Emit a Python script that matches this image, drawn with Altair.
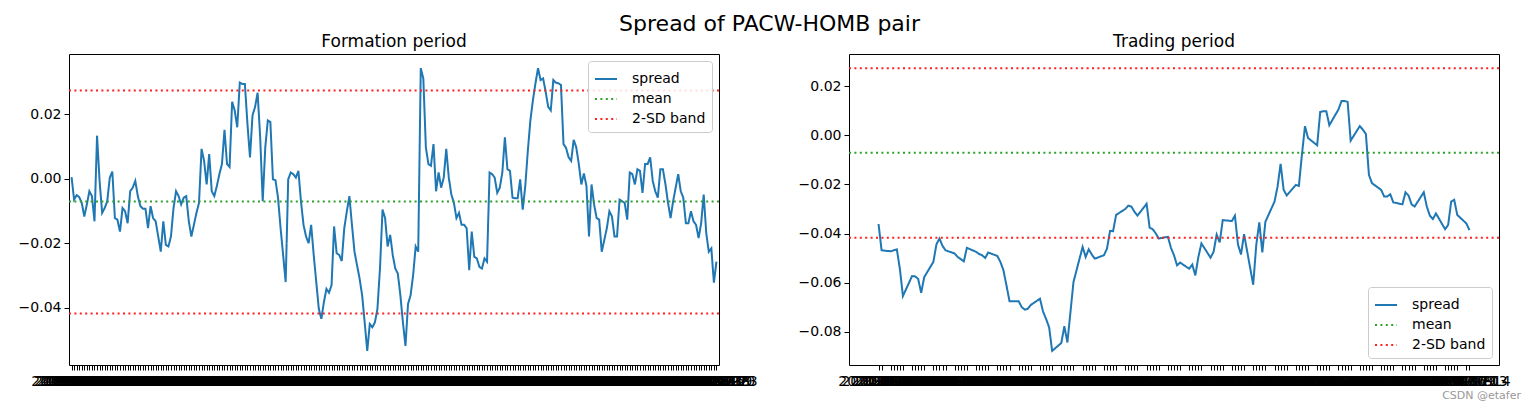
import altair as alt
import pandas as pd

# ---------------- data ----------------
formation_spread = [
    0.0005, -0.0065, -0.0051, -0.0057, -0.0075, -0.0117, -0.0080, -0.0039, -0.0054, -0.0132,
    0.0133, -0.0007, -0.0106, -0.0091, -0.0070, 0.0003, 0.0022, -0.0122, -0.0127, -0.0164,
    -0.0091, -0.0101, -0.0138, -0.0039, -0.0028, -0.0007, -0.0054, -0.0085, -0.0093, -0.0093,
    -0.0153, -0.0085, -0.0122, -0.0132, -0.0179, -0.0226, -0.0132, -0.0205, -0.0210, -0.0179,
    -0.0091, -0.0039, -0.0054, -0.0080, -0.0059, -0.0054, -0.0132, -0.0179, -0.0143, -0.0106,
    -0.0075, 0.0092, 0.0055, -0.0018, 0.0076, -0.0039, -0.0054, -0.0023, 0.0014, 0.0045,
    0.0151, 0.0045, 0.0036, 0.0238, 0.0211, 0.0159, 0.0297, 0.0293, 0.0293, 0.0170,
    0.0066, 0.0196, 0.0222, 0.0266, 0.0128, -0.0070, 0.0097, 0.0180, 0.0175, -0.0002,
    -0.0005, -0.0059, -0.0153, -0.0236, -0.0320,
    -0.0002, 0.0019, 0.0014, 0.0003, 0.0024, -0.0070, -0.0143, -0.0179, -0.0200, -0.0143,
    -0.0236, -0.0320, -0.0403, -0.0434, -0.0382, -0.0341, -0.0353, -0.0330, -0.0148, -0.0231,
    -0.0236, -0.0255, -0.0153, -0.0101, -0.0054, -0.0143, -0.0226, -0.0268, -0.0309, -0.0361,
    -0.0445, -0.0533, -0.0450, -0.0460, -0.0445, -0.0403, -0.0278, -0.0096, -0.0122, -0.0210,
    -0.0174, -0.0236, -0.0278, -0.0294, -0.0361, -0.0445, -0.0518, -0.0388, -0.0361, -0.0299,
    -0.0210, -0.0226, 0.0342, 0.0310, 0.0097, 0.0045, 0.0040, 0.0107, -0.0039, 0.0019,
    -0.0028, 0.0003, 0.0092, 0.0003, -0.0049, -0.0075, -0.0122, -0.0106, -0.0143, -0.0143,
    -0.0153, -0.0283, -0.0164, -0.0242, -0.0247, -0.0273, -0.0278, -0.0247, -0.0257, 0.0019,
    0.0014, 0.0003,
    -0.0044, -0.0028, 0.0019, 0.0128, 0.0029, 0.0024, -0.0059, -0.0061, -0.0061, -0.0002,
    -0.0096, -0.0023, 0.0086, 0.0180, 0.0243, 0.0295, 0.0342, 0.0305, 0.0310, 0.0269,
    0.0222, 0.0211, 0.0305, 0.0297, 0.0295, 0.0290, 0.0107, 0.0095, 0.0066, 0.0055,
    0.0120, 0.0097, 0.0045, -0.0018, 0.0016, -0.0023, -0.0179, -0.0018, -0.0080, -0.0122,
    -0.0127, -0.0226, -0.0190, -0.0153, -0.0101, -0.0117, -0.0179, -0.0179, -0.0065, -0.0070,
    -0.0075, -0.0127, 0.0019, 0.0014, -0.0018, 0.0029, 0.0024, -0.0044, 0.0045, 0.0045,
    0.0066, -0.0007, -0.0039, -0.0059, 0.0029, 0.0029, -0.0018, -0.0075, -0.0122, -0.0070,
    -0.0028, 0.0014, -0.0039, -0.0059, -0.0138, -0.0138, -0.0101, -0.0132, -0.0143, -0.0184,
    -0.0138, -0.0049, -0.0169, -0.0226, -0.0216, -0.0322, -0.0257,
]

trading_spread = [
    -0.0361, -0.0468, -0.0472, -0.0468, -0.0464, -0.0543, -0.0654, -0.0573, -0.0574, -0.0584,
    -0.0641, -0.0577, -0.0515, -0.0444, -0.0420, -0.0450, -0.0468, -0.0481, -0.0495, -0.0504,
    -0.0513, -0.0458, -0.0474, -0.0483, -0.0488, -0.0499, -0.0477, -0.0491, -0.0515, -0.0549,
    -0.0611, -0.0675, -0.0675, -0.0699, -0.0709, -0.0706, -0.0690, -0.0665, -0.0717, -0.0747,
    -0.0781, -0.0877, -0.0845, -0.0777, -0.0843, -0.0720, -0.0597, -0.0454, -0.0495, -0.0464,
    -0.0485, -0.0502, -0.0488, -0.0461, -0.0389, -0.0390, -0.0324, -0.0300, -0.0286, -0.0290,
    -0.0311, -0.0327, -0.0279, -0.0376, -0.0382, -0.0399, -0.0420, -0.0413, -0.0458, -0.0488,
    -0.0529, -0.0518, -0.0543, -0.0526, -0.0570, -0.0495, -0.0440, -0.0498, -0.0474, -0.0404,
    -0.0436, -0.0345, -0.0349, -0.0327, -0.0444, -0.0485, -0.0402, -0.0608, -0.0447, -0.0354,
    -0.0477, -0.0352, -0.0270, -0.0209, -0.0116, -0.0222, -0.0245, -0.0202, -0.0206, -0.0079,
    0.0037, -0.0011, -0.0041, 0.0095, 0.0098, 0.0098, 0.0041, 0.0105, 0.0139, 0.0139,
    0.0136, -0.0022, 0.0037, 0.0023, 0.0005, -0.0161, -0.0195, -0.0222, -0.0249, -0.0249,
    -0.0240, -0.0273, -0.0281, -0.0232, -0.0245, -0.0281, -0.0290, -0.0232, -0.0290, -0.0327,
    -0.0341, -0.0318, -0.0382, -0.0365, -0.0270, -0.0263, -0.0324, -0.0359, -0.0386,
]

spread_mean = -0.0071
band_upper = 0.0273
band_lower = -0.0417

formation_yticks = [-0.04, -0.02, 0.00, 0.02]
trading_yticks = [-0.08, -0.06, -0.04, -0.02, 0.00, 0.02]

series_names = ["spread", "mean", "2-SD band"]
series_colors = ["#1f77b4", "#2ca02c", "#ff2020"]

formation_start = "2019-01-02"
trading_start = "2020-01-02"

chart_title = "Spread of PACW-HOMB pair"
formation_title = "Formation period"
trading_title = "Trading period"
watermark = "CSDN @etafer"

# ---------------- build tables ----------------
FONT = "DejaVu Sans"
formation_dates = pd.bdate_range(formation_start, periods=len(formation_spread)).strftime("%Y-%m-%d").tolist()
trading_dates = pd.bdate_range(trading_start, periods=len(trading_spread)).strftime("%Y-%m-%d").tolist()

formation_df = pd.DataFrame({"date": formation_dates, "value": formation_spread, "series": "spread"})
trading_df = pd.DataFrame({"date": trading_dates, "value": trading_spread, "series": "spread"})
rules_df = pd.DataFrame({
    "value": [spread_mean, band_upper, band_lower],
    "series": ["mean", "2-SD band", "2-SD band"],
})

color_scale = alt.Scale(domain=series_names, range=series_colors)
dash_scale = alt.Scale(domain=series_names, range=[[1, 0], [2, 3.4], [2, 3.4]])


def ylim(values):
    lo = min(min(values), band_lower)
    hi = max(max(values), band_upper)
    m = 0.05 * (hi - lo)
    return [lo - m, hi + m]


def make_legend(orient):
    return alt.Legend(
        title=None, orient=orient, offset=7, symbolType="stroke", symbolSize=484,
        symbolStrokeWidth=2, labelFontSize=14, labelFont=FONT, labelColor="black",
        fillColor="rgba(255,255,255,0.85)", strokeColor="#cccccc", cornerRadius=3,
        padding=6, rowPadding=1, labelOffset=14,
    )


def panel(df, xenc, title, ydomain, yticks, legend_orient, extra=None):
    legend = make_legend(legend_orient)
    y = alt.Y(
        "value:Q",
        scale=alt.Scale(domain=ydomain, nice=False, zero=False),
        axis=alt.Axis(values=yticks, format=".2f", title=None, grid=False, domain=False,
                      tickSize=5, tickColor="black", tickWidth=1, labelFontSize=14,
                      labelFont=FONT, labelColor="black", labelPadding=3),
    )
    color = alt.Color("series:N", scale=color_scale, legend=legend)
    dash = alt.StrokeDash("series:N", scale=dash_scale, legend=legend)
    line = alt.Chart(df).mark_line(strokeWidth=2).encode(x=xenc, y=y, color=color, strokeDash=dash)
    rules = alt.Chart(rules_df).mark_rule(strokeWidth=2).encode(y=y, color=color, strokeDash=dash)
    layers = [line, rules]
    if extra is not None:
        layers.append(extra)
    return alt.layer(*layers).properties(
        width=650, height=311,
        title=alt.TitleParams(title, fontSize=17, font=FONT, fontWeight="normal", color="black", offset=3),
    )


n_f = len(formation_dates)
x_formation = alt.X(
    "date:O", sort=None,
    scale=alt.Scale(type="point", padding=0.05 * (n_f - 1) / 1.1),
    axis=alt.Axis(title=None, labelAngle=0, labelOverlap=False, labelFontSize=14, labelFont=FONT,
                  labelColor="black", tickSize=5, tickColor="black", domain=False, labelPadding=4),
)

t_ms = [int(pd.Timestamp(d).value // 10**6) for d in trading_dates]
span = t_ms[-1] - t_ms[0]
x_trading = alt.X(
    "date:T",
    scale=alt.Scale(type="utc", domain=[t_ms[0] - 0.05 * span, t_ms[-1] + 0.05 * span], nice=False),
    axis=alt.Axis(title=None, values=t_ms, labelExpr="utcFormat(datum.value, '%Y-%m-%d')",
                  labelAngle=0, labelOverlap=False, labelFontSize=14, labelFont=FONT,
                  labelColor="black", tickSize=5, tickColor="black", domain=False,
                  labelPadding=4, grid=False, labelFlush=False),
)

wm = alt.Chart(pd.DataFrame({"t": [watermark]})).mark_text(
    align="right", baseline="middle", fontSize=11, font=FONT, color="#999999"
).encode(x=alt.value(672), y=alt.value(342), text="t:N")

formation = panel(formation_df, x_formation, formation_title, ylim(formation_spread),
                  formation_yticks, "top-right")
trading = panel(trading_df, x_trading, trading_title, ylim(trading_spread),
                trading_yticks, "bottom-right", extra=wm)

chart = (
    alt.hconcat(formation, trading, spacing=130, bounds="flush")
    .resolve_scale(x="independent", y="independent")
    .resolve_legend(color="independent", strokeDash="independent")
    .properties(
        title=alt.TitleParams(chart_title, fontSize=22, font=FONT, fontWeight="normal",
                              color="black", anchor="middle", offset=-3),
        padding={"left": 17, "top": 12, "right": 5, "bottom": 5},
        background="white",
    )
    .configure_view(stroke="black", strokeWidth=1)
)

chart.save("out.html", embed_options={"renderer": "svg", "actions": False})
